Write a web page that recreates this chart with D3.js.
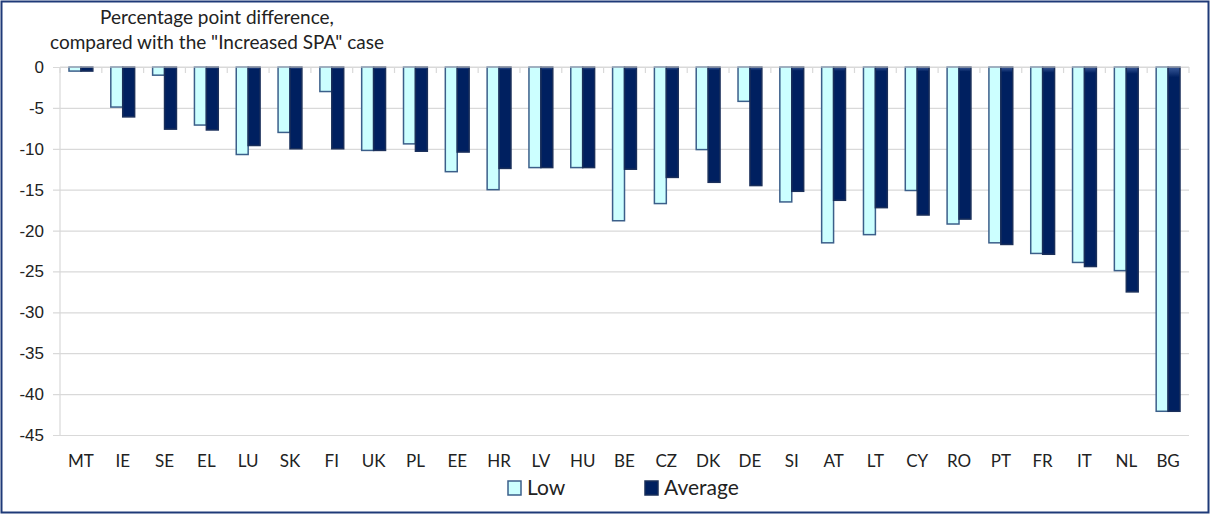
<!DOCTYPE html>
<html>
<head>
<meta charset="utf-8">
<script src="https://cdn.jsdelivr.net/npm/d3@7"></script>
<style>
  body { margin: 0; background: #fff; }
  svg { display: block; font-family: Lato, "Open Sans", sans-serif; }
</style>
</head>
<body>
<svg id="svg"></svg>
<script>
const countries = ["MT", "IE", "SE", "EL", "LU", "SK", "FI", "UK", "PL", "EE", "HR", "LV", "HU", "BE",
    "CZ", "DK", "DE", "SI", "AT", "LT", "CY", "RO", "PT", "FR", "IT", "NL", "BG"];
const lowValues = [-0.5, -4.9, -1.0, -7.1, -10.7, -8.0, -3.0, -10.2, -9.4, -12.8, -15.0, -12.3, -12.3, -18.8,
    -16.7, -10.1, -4.2, -16.5, -21.5, -20.5, -15.1, -19.2, -21.5, -22.8, -23.9, -24.9, -42.1];
const averageValues = [-0.5, -6.1, -7.6, -7.7, -9.6, -10.0, -10.0, -10.2, -10.3, -10.4, -12.4, -12.3, -12.3, -12.5,
    -13.5, -14.1, -14.5, -15.2, -16.3, -17.2, -18.1, -18.6, -21.7, -22.9, -24.4, -27.5, -42.1];
const seriesNames = ["Low", "Average"];
const yTicks = [0, -5, -10, -15, -20, -25, -30, -35, -40, -45];
const titleLines = ["Percentage point difference,", "compared with the \"Increased SPA\" case"];

const width = 1210;
const height = 514;
const svg = d3.select("#svg").attr("width", width).attr("height", height);

// plot area
const plotLeft = 60, plotRight = 1189, plotTop = 67, plotBottom = 435;

const colors = { Low: "#ccffff", Average: "#002060" };
const strokes = { Low: "#3b5f8a", Average: "#1a2f5a" };

// subtle highlight at the top of the dark bars
const defs = svg.append("defs");
const grad = defs.append("linearGradient")
    .attr("id", "avgGrad")
    .attr("x1", 0).attr("x2", 0).attr("y1", 0).attr("y2", 1)
    .attr("gradientUnits", "objectBoundingBox");
grad.append("stop").attr("offset", "0%").attr("stop-color", "#3a5a9a");
grad.append("stop").attr("offset", "3%").attr("stop-color", "#002060");
grad.append("stop").attr("offset", "100%").attr("stop-color", "#002060");

// outer frame
svg.append("rect")
    .attr("x", 1.5).attr("y", 1.5)
    .attr("width", width - 3).attr("height", height - 3)
    .attr("fill", "none")
    .attr("stroke", "#1f3a78")
    .attr("stroke-width", 2);

const x = d3.scaleBand()
    .domain(countries)
    .range([plotLeft, plotRight])
    .paddingInner(0.43)
    .paddingOuter(0.215);

const x1 = d3.scaleBand()
    .domain(seriesNames)
    .range([0, x.bandwidth()]);

const y = d3.scaleLinear()
    .domain([0, -45])
    .range([plotTop, plotBottom]);

// y gridlines + labels
const yAxis = svg.append("g")
    .attr("transform", "translate(53,0)")
    .call(d3.axisLeft(y).tickValues(yTicks).tickFormat(d => String(d))
        .tickSize(-(plotRight - 53)).tickPadding(9).tickSizeOuter(0));
yAxis.select(".domain").remove();
yAxis.selectAll(".tick line").attr("stroke", "#d9d9d9").attr("stroke-width", 1.2);
yAxis.selectAll(".tick text")
    .attr("fill", "#222")
    .style("font-size", "17px");

// y axis line
svg.append("line")
    .attr("x1", plotLeft).attr("x2", plotLeft)
    .attr("y1", plotTop).attr("y2", plotBottom)
    .attr("stroke", "#d9d9d9")
    .attr("stroke-width", 1.2);

// bars
const rows = countries.map((c, i) => ({ country: c, Low: lowValues[i], Average: averageValues[i] }));

const groups = svg.append("g")
    .selectAll("g")
    .data(rows)
    .enter().append("g")
    .attr("transform", d => `translate(${x(d.country)},0)`);

groups.selectAll("rect")
    .data(d => seriesNames.map(k => ({ key: k, value: d[k] })))
    .enter().append("rect")
    .attr("x", d => x1(d.key))
    .attr("y", y(0))
    .attr("width", x1.bandwidth())
    .attr("height", d => y(d.value) - y(0))
    .attr("fill", d => d.key === "Average" ? "url(#avgGrad)" : colors[d.key])
    .attr("stroke", d => strokes[d.key])
    .attr("stroke-width", 1.5);

// category axis on the zero line, ticks between categories
const gap = (x.step() - x.bandwidth()) / 2;
const catTicks = countries.map(c => x(c) - gap).concat([x(countries[countries.length - 1]) + x.bandwidth() + gap]);
svg.append("g")
    .selectAll("line")
    .data(catTicks)
    .enter().append("line")
    .attr("x1", d => d).attr("x2", d => d)
    .attr("y1", y(0)).attr("y2", y(0) + 6)
    .attr("stroke", "#d9d9d9")
    .attr("stroke-width", 1.2);

svg.append("line")
    .attr("x1", plotLeft).attr("x2", plotRight)
    .attr("y1", y(0)).attr("y2", y(0))
    .attr("stroke", "#d9d9d9")
    .attr("stroke-width", 1.2);

// category labels at the bottom
svg.append("g")
    .selectAll("text")
    .data(countries)
    .enter().append("text")
    .attr("x", d => x(d) + x.bandwidth() / 2)
    .attr("y", 467)
    .attr("text-anchor", "middle")
    .attr("fill", "#222")
    .style("font-size", "17px")
    .text(d => d);

// title
svg.append("g")
    .selectAll("text")
    .data(titleLines)
    .enter().append("text")
    .attr("x", 217)
    .attr("y", (d, i) => 24 + i * 25)
    .attr("text-anchor", "middle")
    .attr("fill", "#222")
    .style("font-size", "19px")
    .text(d => d);

// legend
const legendX = { Low: 508, Average: 645 };
const legend = svg.append("g")
    .selectAll("g")
    .data(seriesNames)
    .enter().append("g")
    .attr("transform", d => `translate(${legendX[d]},481)`);

legend.append("rect")
    .attr("width", 13).attr("height", 14)
    .attr("fill", d => colors[d])
    .attr("stroke", d => strokes[d])
    .attr("stroke-width", 1.5);

legend.append("text")
    .attr("x", 19)
    .attr("y", 14)
    .attr("fill", "#222")
    .style("font-size", "21px")
    .text(d => d);
</script>
</body>
</html>
